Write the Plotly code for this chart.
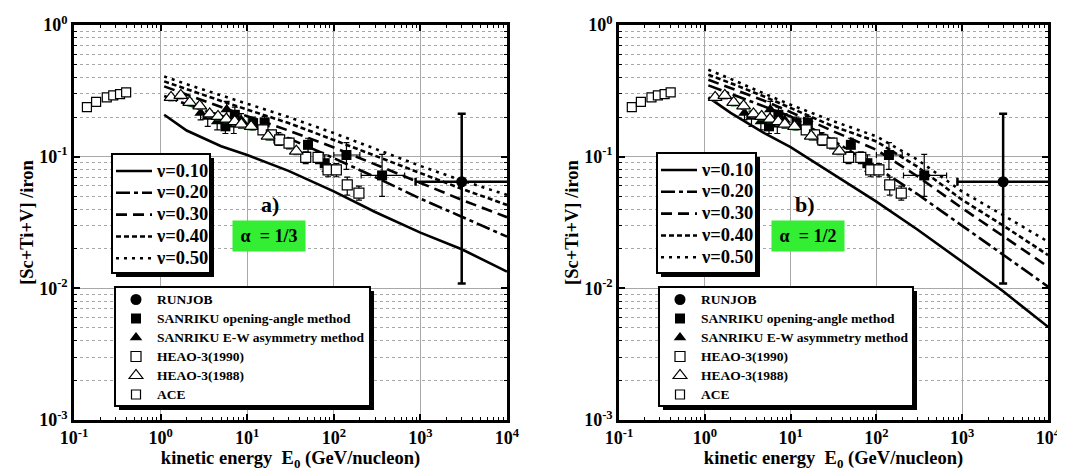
import plotly.graph_objects as go

# ---------------- data ----------------
# model curves (energy grid, GeV/nucleon)
E_model = [1.1, 2, 5, 10, 30, 100, 300, 1000, 3000, 10000]
nu_labels = ["ν=0.10", "ν=0.20", "ν=0.30", "ν=0.40", "ν=0.50"]

# panel a) alpha = 1/3
a_nu10 = [0.208, 0.158, 0.120, 0.103, 0.078, 0.0545, 0.038, 0.0265, 0.0198, 0.0134]
a_nu20 = [0.289, 0.250, 0.205, 0.178, 0.138, 0.0975, 0.070, 0.048, 0.035, 0.0247]
a_nu30 = [0.342, 0.295, 0.238, 0.203, 0.158, 0.1175, 0.087, 0.063, 0.047, 0.0347]
a_nu40 = [0.373, 0.325, 0.265, 0.228, 0.180, 0.134, 0.101, 0.075, 0.057, 0.043]
a_nu50 = [0.407, 0.355, 0.292, 0.252, 0.200, 0.151, 0.115, 0.085, 0.066, 0.0512]

# panel b) alpha = 1/2
b_nu10 = [0.282, 0.215, 0.150, 0.118, 0.075, 0.0456, 0.028, 0.016, 0.0095, 0.0051]
b_nu20 = [0.348, 0.300, 0.240, 0.202, 0.135, 0.083, 0.052, 0.030, 0.018, 0.0103]
b_nu30 = [0.384, 0.333, 0.265, 0.218, 0.158, 0.1127, 0.071, 0.0406, 0.025, 0.0146]
b_nu40 = [0.419, 0.362, 0.285, 0.234, 0.172, 0.1305, 0.084, 0.047, 0.030, 0.0179]
b_nu50 = [0.457, 0.390, 0.300, 0.248, 0.188, 0.1425, 0.095, 0.0543, 0.036, 0.0226]

# measurements
runjob_E = [3000]
runjob_r = [0.0645]
runjob_err_up = [0.147]
runjob_err_dn = [0.0536]
runjob_Eerr_up = [9000]
runjob_Eerr_dn = [2120]

sanOA_E = [5.6, 7.2, 11.7, 15.9, 22.9, 50.4, 78.5, 140, 361]
sanOA_r = [0.170, 0.208, 0.180, 0.182, 0.137, 0.123, 0.0892, 0.103, 0.072]
sanOA_err_up = [0.020, 0.030, 0.020, 0.020, 0.015, 0.015, 0.014, 0.025, 0.032]
sanOA_err_dn = [0.020, 0.025, 0.020, 0.020, 0.015, 0.015, 0.012, 0.023, 0.022]
sanOA_Eerr_up = [0, 0, 0, 0, 0, 5, 0, 60, 297]
sanOA_Eerr_dn = [0, 0, 0, 0, 0, 5, 0, 40, 154]

sanEW_E = [2.9, 3.5, 4.5, 5.8, 7.0, 8.5]
sanEW_r = [0.215, 0.200, 0.185, 0.228, 0.175, 0.190]
sanEW_err_up = [0.025, 0.022, 0.020, 0.035, 0.020, 0.022]
sanEW_err_dn = [0.025, 0.030, 0.025, 0.040, 0.025, 0.025]

heao90_E = [15.2, 19.0, 23.7, 30.4, 47.4, 65.8, 85.8, 107, 143, 195]
heao90_r = [0.160, 0.1465, 0.134, 0.1266, 0.0986, 0.0986, 0.0794, 0.0794, 0.0610, 0.0528]
heao90_err_up = [0.012, 0.012, 0.012, 0.012, 0.010, 0.010, 0.009, 0.009, 0.009, 0.007]
heao90_err_dn = [0.012, 0.012, 0.012, 0.012, 0.010, 0.010, 0.009, 0.009, 0.010, 0.006]

heao88_E = [1.32, 1.71, 2.17, 2.83, 3.69, 4.6, 5.74, 7.18, 8.56, 11.1, 17.4, 36.9]
heao88_r = [0.282, 0.292, 0.258, 0.243, 0.211, 0.202, 0.193, 0.185, 0.177, 0.170, 0.143, 0.110]

ace_E = [0.141, 0.18, 0.239, 0.284, 0.34, 0.40]
ace_r = [0.238, 0.261, 0.282, 0.292, 0.299, 0.308]

x_tickvals = [0.1, 1, 10, 100, 1000, 10000]
x_ticktext = ["10<sup>-1</sup>", "10<sup>0</sup>", "10<sup>1</sup>", "10<sup>2</sup>",
              "10<sup>3</sup>", "10<sup>4</sup>"]
y_tickvals = [0.001, 0.01, 0.1, 1]
y_ticktext = ["10<sup>-3</sup>", "10<sup>-2</sup>", "10<sup>-1</sup>", "10<sup>0</sup>"]
x_minor = [m * 10.0 ** e for e in range(-1, 4) for m in range(2, 10)]
y_minor = [m * 10.0 ** e for e in range(-3, 0) for m in range(2, 10)]

# ---------------- figure ----------------
FONT = "Liberation Serif, Times New Roman, Times, serif"
W, H = 1065, 471
fig = go.Figure()

dashes = ["solid", "14px,4px,4px,4px", "11px,6px", "5px,3px", "3px,5px"]

panels = [
    dict(xa="x", ya="y", curves=[a_nu10, a_nu20, a_nu30, a_nu40, a_nu50],
         leg_l="legend", leg_m="legend2"),
    dict(xa="x2", ya="y2", curves=[b_nu10, b_nu20, b_nu30, b_nu40, b_nu50],
         leg_l="legend3", leg_m="legend4"),
]


def big(txt, px):
    return '<span style="font-size:%gpx">%s</span>' % (px, txt)


def ebar(up, dn, w=3):
    return dict(type="data", symmetric=False, array=up, arrayminus=dn,
                color="black", thickness=1.2, width=w)


for p in panels:
    for i, (lab, vals) in enumerate(zip(nu_labels, p["curves"])):
        fig.add_trace(go.Scatter(
            x=E_model, y=vals, mode="lines", name=big(lab, 18.5), xaxis=p["xa"], yaxis=p["ya"],
            line=dict(color="black", width=2.6, dash=dashes[i]),
            legend=p["leg_l"], legendgroup=p["leg_l"] + str(i)))

    mlab = 13.5
    fig.add_trace(go.Scatter(
        x=runjob_E, y=runjob_r, mode="markers", name=big("RUNJOB", mlab),
        xaxis=p["xa"], yaxis=p["ya"],
        marker=dict(symbol="circle", size=11, color="black"),
        error_y=dict(type="data", symmetric=False, array=runjob_err_up, arrayminus=runjob_err_dn,
                     color="black", thickness=2.5, width=4),
        error_x=dict(type="data", symmetric=False, array=runjob_Eerr_up, arrayminus=runjob_Eerr_dn,
                     color="black", thickness=2.5, width=4),
        legend=p["leg_m"], legendgroup=p["leg_m"] + "a"))
    fig.add_trace(go.Scatter(
        x=sanOA_E, y=sanOA_r, mode="markers", name=big("SANRIKU opening-angle method", mlab),
        xaxis=p["xa"], yaxis=p["ya"],
        marker=dict(symbol="square", size=10, color="black"),
        error_y=ebar(sanOA_err_up, sanOA_err_dn),
        error_x=ebar(sanOA_Eerr_up, sanOA_Eerr_dn),
        legend=p["leg_m"], legendgroup=p["leg_m"] + "b"))
    fig.add_trace(go.Scatter(
        x=sanEW_E, y=sanEW_r, mode="markers", name=big("SANRIKU E-W asymmetry method", mlab),
        xaxis=p["xa"], yaxis=p["ya"],
        marker=dict(symbol="triangle-up", size=11, color="black"),
        error_y=ebar(sanEW_err_up, sanEW_err_dn),
        legend=p["leg_m"], legendgroup=p["leg_m"] + "c"))
    fig.add_trace(go.Scatter(
        x=heao90_E, y=heao90_r, mode="markers", name=big("HEAO-3(1990)", mlab),
        xaxis=p["xa"], yaxis=p["ya"],
        marker=dict(symbol="square", size=10, color="white", line=dict(color="black", width=1.2)),
        error_y=ebar(heao90_err_up, heao90_err_dn),
        legend=p["leg_m"], legendgroup=p["leg_m"] + "d"))
    fig.add_trace(go.Scatter(
        x=heao88_E, y=heao88_r, mode="markers", name=big("HEAO-3(1988)", mlab),
        xaxis=p["xa"], yaxis=p["ya"],
        marker=dict(symbol="triangle-up", size=12, color="white", line=dict(color="black", width=1.2)),
        error_y=dict(type="percent", value=6, color="#108010", thickness=1.2, width=3),
        legend=p["leg_m"], legendgroup=p["leg_m"] + "e"))
    fig.add_trace(go.Scatter(
        x=ace_E, y=ace_r, mode="markers", name=big("ACE", mlab),
        xaxis=p["xa"], yaxis=p["ya"],
        marker=dict(symbol="square", size=9, color="white", line=dict(color="black", width=1.2)),
        legend=p["leg_m"], legendgroup=p["leg_m"] + "f"))


def xaxis_cfg(domain, anchor):
    return dict(
        type="log", range=[-1, 4], domain=domain, anchor=anchor,
        tickvals=x_tickvals, ticktext=x_ticktext,
        ticks="inside", ticklen=6, tickwidth=1.5, tickcolor="black",
        showline=True, linewidth=2.5, linecolor="black", mirror="allticks",
        showgrid=True, gridcolor="#a8a8a8", gridwidth=1, zeroline=False,
        minor=dict(tickvals=x_minor, ticks="inside", ticklen=3, tickwidth=1.2,
                   tickcolor="black", showgrid=False),
        tickfont=dict(size=18, family=FONT, color="black", weight="bold"),
        title=dict(text="kinetic energy\u00a0 E<sub>0</sub> (GeV/nucleon)",
                   font=dict(size=18.5, family=FONT, color="black", weight="bold"), standoff=0),
        automargin=False)


def yaxis_cfg(anchor):
    return dict(
        type="log", range=[-3, 0], domain=[59 / H, 454 / H], anchor=anchor,
        tickvals=y_tickvals, ticktext=y_ticktext,
        ticks="inside", ticklen=6, tickwidth=1.5, tickcolor="black",
        showline=True, linewidth=2.5, linecolor="black", mirror="allticks",
        showgrid=True, gridcolor="#a8a8a8", gridwidth=1, zeroline=False,
        minor=dict(tickvals=y_minor, ticks="inside", ticklen=3, tickwidth=1.2,
                   tickcolor="black", showgrid=True, gridcolor="#a8a8a8",
                   griddash="3px,3px", gridwidth=0.8),
        tickfont=dict(size=18, family=FONT, color="black", weight="bold"),
        title=dict(text="[Sc+Ti+V] /iron",
                   font=dict(size=18.5, family=FONT, color="black", weight="bold"), standoff=1),
        automargin=False)


leg_common = dict(bgcolor="rgba(0,0,0,0)", borderwidth=0,
                  xanchor="left", yanchor="top", traceorder="normal")

fig.update_layout(
    width=W, height=H,
    margin=dict(l=0, r=0, t=0, b=0),
    paper_bgcolor="white", plot_bgcolor="white",
    font=dict(family=FONT, color="black", weight="bold"),
    xaxis=xaxis_cfg([66 / W, 499 / W], "y"),
    yaxis=yaxis_cfg("x"),
    xaxis2=xaxis_cfg([611 / W, 1040 / W], "y2"),
    yaxis2=yaxis_cfg("x2"),
    legend=dict(x=103 / W, y=1 - 147 / H, font=dict(size=14.5, family=FONT, weight="bold"),
                itemwidth=36, tracegroupgap=0, **leg_common),
    legend2=dict(x=107 / W, y=1 - 277 / H, font=dict(size=10.4, family=FONT, weight="bold"),
                 itemwidth=32, tracegroupgap=0, **leg_common),
    legend3=dict(x=648 / W, y=1 - 146 / H, font=dict(size=14.5, family=FONT, weight="bold"),
                 itemwidth=36, tracegroupgap=0, **leg_common),
    legend4=dict(x=651 / W, y=1 - 277 / H, font=dict(size=10.4, family=FONT, weight="bold"),
                 itemwidth=32, tracegroupgap=0, **leg_common),
    showlegend=True,
)

# legend boxes with drop shadows (pixel boxes -> paper coords)
boxes = [(104, 146, 202, 265), (107, 279, 362, 398), (649, 145, 748, 265), (651, 279, 905, 398)]
for (x0, y0, x1, y1) in boxes:
    fig.add_shape(type="rect", xref="paper", yref="paper", layer="above",
                  x0=(x0 + 4) / W, x1=(x1 + 4) / W, y0=1 - (y1 + 4) / H, y1=1 - (y0 + 4) / H,
                  fillcolor="black", line=dict(width=0))
    fig.add_shape(type="rect", xref="paper", yref="paper", layer="above",
                  x0=x0 / W, x1=x1 / W, y0=1 - y1 / H, y1=1 - y0 / H,
                  fillcolor="white", line=dict(color="black", width=2))

# panel labels and alpha boxes
for (lx, lab, bx, atext) in [(262, "a)", 261, "α  = 1/3"), (797, "b)", 800, "α  = 1/2")]:
    fig.add_annotation(x=lx / W, y=1 - 196 / H, xref="paper", yref="paper",
                       xanchor="center", yanchor="middle",
                       text=lab, showarrow=False,
                       font=dict(size=22, family=FONT, color="black", weight="bold"))
    fig.add_annotation(x=bx / W, y=1 - 228 / H, xref="paper", yref="paper",
                       xanchor="center", yanchor="middle",
                       text=atext, showarrow=False, bgcolor="#33ee33",
                       width=66, height=24, borderpad=3,
                       font=dict(size=18, family=FONT, color="black", weight="bold"))

fig.write_html("out.html")
